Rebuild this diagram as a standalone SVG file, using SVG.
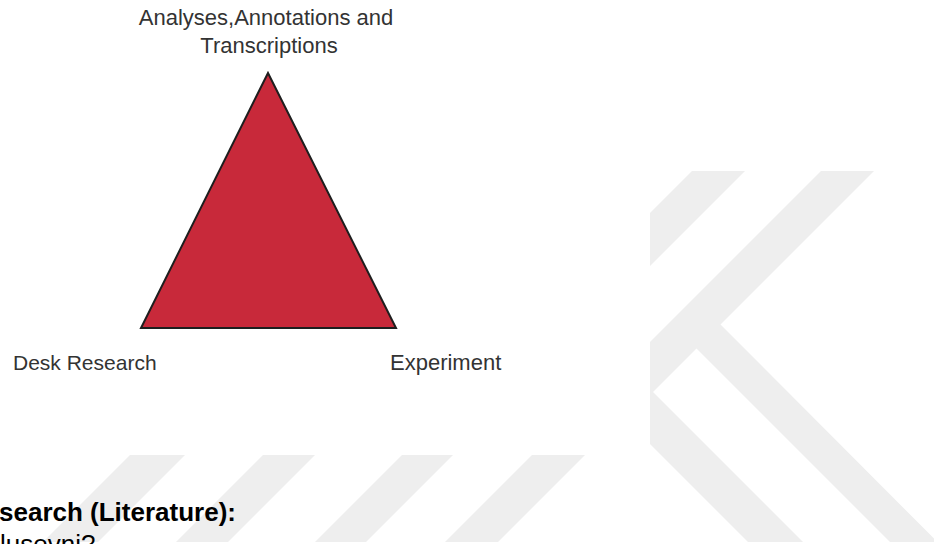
<svg xmlns="http://www.w3.org/2000/svg" width="934" height="544" viewBox="0 0 934 544">
  <style>
    .wm { fill: #eeeeee; stroke: none; }
    .lbl { font-family: "Liberation Sans", Arial, sans-serif; font-size: 22px; fill: #333333; }
    .body { font-family: "Liberation Sans", Arial, sans-serif; font-size: 26px; fill: #000000; }
  </style>
  <rect x="0" y="0" width="934" height="544" fill="#ffffff"/>
  <g id="watermark">
    <polygon class="wm" points="692,171 745,171 650,266 650,213"/>
    <polygon class="wm" points="821,171 874,171 720.5,324.5 934,538.5 934,542 890,542 696.5,348.5 650,395 650,342"/>
    <polygon class="wm" points="650,389 803,542 748,542 650,444"/>
    <polygon class="wm" points="130,455 185,455 98,542 43,542"/>
    <polygon class="wm" points="263,455 315,455 228,542 176,542"/>
    <polygon class="wm" points="402,455 453,455 366,542 315,542"/>
    <polygon class="wm" points="532,455 585,455 498,542 445,542"/>
  </g>
  <g id="triangle">
    <polygon points="268,73 141,328 396,328" fill="#c8293a" stroke="#1e1e1e" stroke-width="2" stroke-linejoin="miter"/>
  </g>
  <g id="label-top">
    <text class="lbl" x="266" y="25" text-anchor="middle">Analyses,Annotations and</text>
    <text class="lbl" x="269" y="53" text-anchor="middle">Transcriptions</text>
  </g>
  <g id="label-desk">
    <text class="lbl" x="13" y="370" style="font-size:21px">Desk Research</text>
  </g>
  <g id="label-experiment">
    <text class="lbl" x="390" y="370">Experiment</text>
  </g>
  <g id="body-text">
    <text class="body" x="-1" y="521" font-weight="bold">search (Literature):</text>
    <text class="body" x="0" y="553">lusevni?</text>
  </g>
</svg>
